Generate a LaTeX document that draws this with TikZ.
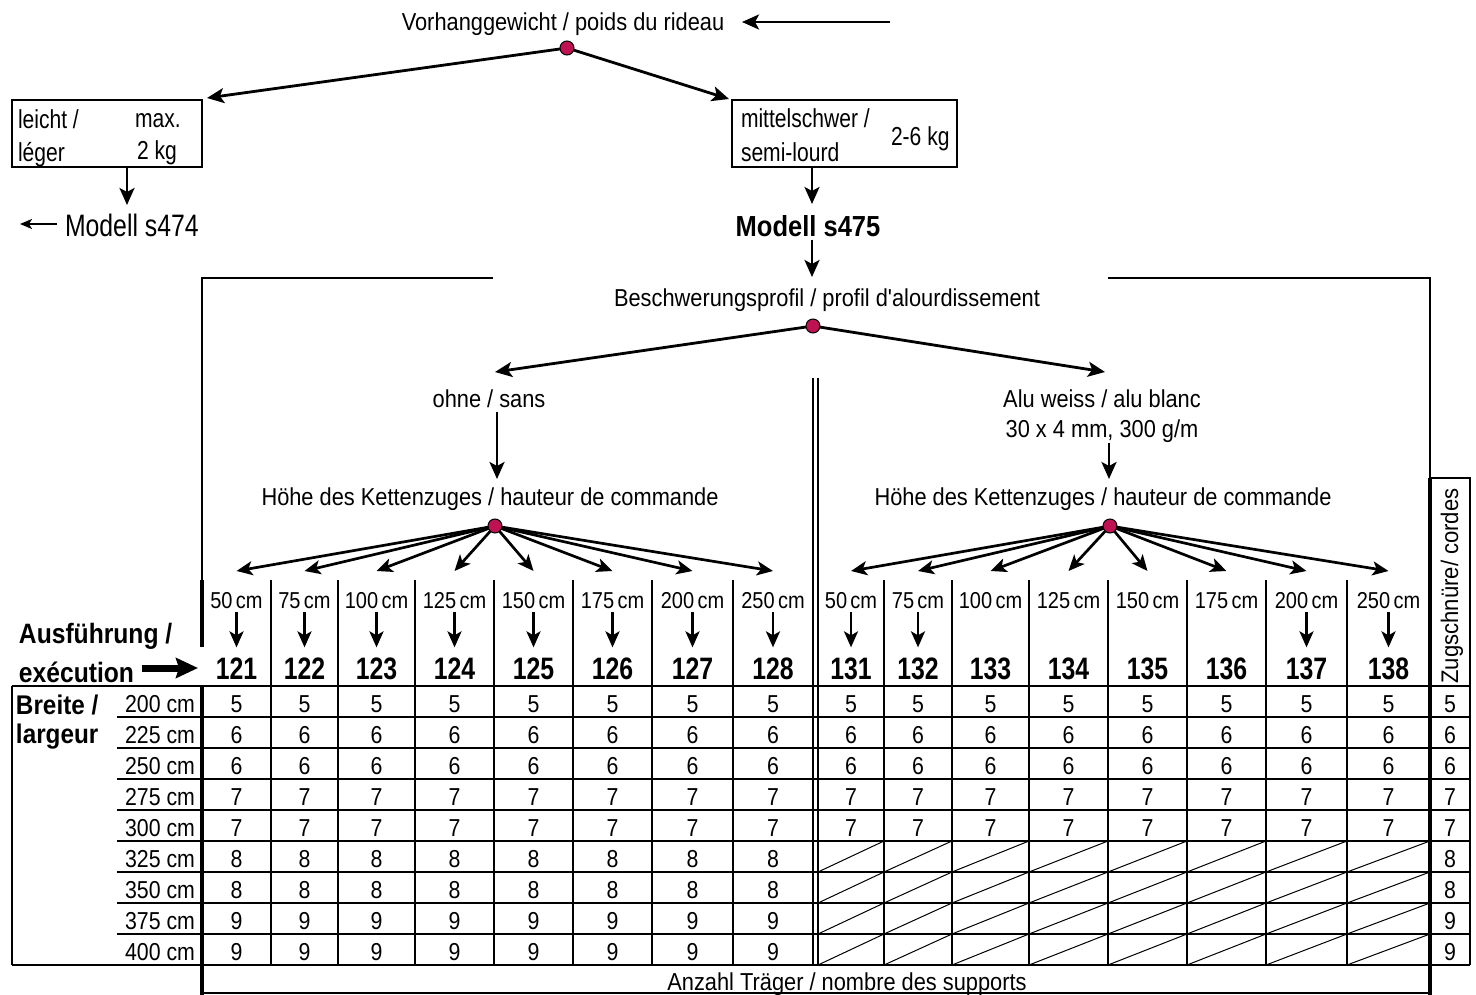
\documentclass[tikz,border=0pt]{standalone}
\usepackage{fontspec}
\setmainfont{Liberation Sans}
\usepackage{graphicx}
\usetikzlibrary{arrows.meta}
\definecolor{dotred}{RGB}{190,18,82}
\newcommand\myfs[1]{\fontsize{#1}{#1}\selectfont}
\newcommand\sxt[3]{\scalebox{#2}[1]{\myfs{#1}#3}}
\newcommand\lbl[1]{\sxt{24.5}{0.89}{#1}}
\newcommand\bxt[1]{\sxt{26}{0.81}{#1}}
\newcommand\colt[1]{\sxt{23}{0.87}{#1}}
\newcommand\numt[1]{\sxt{31}{0.8}{\bfseries #1}}
\newcommand\valt[1]{\sxt{24.5}{0.87}{#1}}
\begin{document}
\begin{tikzpicture}[x=1pt,y=-1pt,
  every node/.style={inner sep=0pt,outer sep=0pt},
  ln/.style={line width=1.3pt},
  mthk/.style={line width=2.4pt},
  thk/.style={line width=3.5pt},
  arr/.style={line width=2.8pt,-{Stealth[length=17pt,width=15pt,inset=4pt]}},
  farr/.style={line width=2.7pt,-{Stealth[length=16pt,width=14pt,inset=4pt]}},
  sarr/.style={line width=2pt,-{Stealth[length=12pt,width=10pt,inset=3pt]}},
  dotn/.style={circle,draw=black,line width=1pt,fill=dotred,minimum size=14pt},
  bx/.style={draw,line width=1.3pt},
]
\useasboundingbox (0,0) rectangle (1476,995);

% ---------------- top
\node[anchor=base] (vh) at (563,31) {\lbl{Vorhanggewicht / poids du rideau}};
\coordinate (vhsrc) at (890,22);
\coordinate (vhtip) at (742,22);
\draw[arr] (vhsrc) -- (vhtip);
\node[dotn] (d1) at (567,48) {};

\node[bx,minimum width=190pt,minimum height=67pt] (lbox) at (107,133.5) {};
\node[bx,minimum width=225pt,minimum height=67pt] (rbox) at (844.5,133.5) {};
\draw[arr] (d1) -- ([shift={(5,-2)}]lbox.north east);
\draw[arr] (d1) -- ([shift={(-3,-1)}]rbox.north west);

\node[anchor=base west] (lt1) at (18,129) {\bxt{leicht /}};
\node[anchor=base west] (lt2) at (135,128) {\bxt{max.}};
\node[anchor=base west] (lt3) at (18,162) {\bxt{léger}};
\node[anchor=base west] (lt4) at (137,160) {\bxt{2 kg}};

\node[anchor=base west] (rt1) at (741,128) {\bxt{mittelschwer /}};
\node[anchor=base west] (rt2) at (741,162) {\bxt{semi-lourd}};
\node[anchor=base west] (rt3) at (891,146) {\bxt{2-6 kg}};

% Modell s474
\node[anchor=base west] (m474) at (65,237) {\sxt{31}{0.8}{Modell s474}};
\coordinate (m474out) at (20,224);
\draw[sarr,shorten <=8pt] (m474.west |- m474out) -- (m474out);
\coordinate (la1) at (127,167);
\coordinate (la2) at (127,205);
\draw[arr] (la1) -- (la2);

% Modell s475
\node[anchor=base] (m475) at (808,237) {\sxt{29}{0.88}{\bfseries Modell s475}};
\coordinate (ra1) at (812,167);
\coordinate (ra2) at (812,204);
\draw[arr] (ra1) -- (ra2);
\coordinate (ra3) at (812,240);
\coordinate (ra4) at (812,277);
\draw[arr] (ra3) -- (ra4);

% Beschwerungsprofil
\node[anchor=base] (besch) at (827,306) {\lbl{Beschwerungsprofil / profil d\textquotesingle alourdissement}};
\node[dotn] (d2) at (813,326) {};
\coordinate (ohnetip) at (495,372);
\coordinate (alutip) at (1105,372);
\draw[arr] (d2) -- (ohnetip);
\draw[arr] (d2) -- (alutip);

\node[anchor=base] (ohne) at (489,407) {\lbl{ohne / sans}};
\node[anchor=base] (alu1) at (1102,407) {\lbl{Alu weiss / alu blanc}};
\node[anchor=base] (alu2) at (1102,437) {\lbl{30 x 4 mm, 300 g/m}};
\coordinate (oa1) at (497,412);
\coordinate (oa2) at (497,479);
\draw[arr] (oa1) -- (oa2);
\coordinate (aa1) at (1109,443);
\coordinate (aa2) at (1109,479);
\draw[arr] (aa1) -- (aa2);

\node[anchor=base] (hoeL) at (490,505) {\lbl{Höhe des Kettenzuges / hauteur de commande}};
\node[anchor=base] (hoeR) at (1103,505) {\lbl{Höhe des Kettenzuges / hauteur de commande}};
\node[dotn] (d3) at (495,526) {};
\node[dotn] (d4) at (1110,526) {};

% ---------------- frame
\draw[ln] (202,580) -- (202,278) -- (493,278);
\draw[ln] (1108,278) -- (1430,278) -- (1430,478) -- (1470,478) -- (1470,965);

% ---------------- header columns
\foreach \c/\x/\lab/\num in {1/236.5/50/121,2/304.5/75/122,3/376.5/100/123,4/454.5/125/124,5/533.5/150/125,6/612.5/175/126,7/692.5/200/127,8/773/250/128}{
  \coordinate (fL\c) at (\x,571);
  \draw[farr] (d3) -- (fL\c);
  \node[anchor=base] (hL\c) at (\x,608) {\colt{\lab\,cm}};
  \node[anchor=base] (nL\c) at (\x,679) {\numt{\num}};
  \draw[farr,shorten <=4pt,shorten >=10pt] (hL\c.south) -- (nL\c.north);
}
\foreach \c/\x/\lab/\num in {1/851/50/131,2/918/75/132,3/990.5/100/133,4/1068.5/125/134,5/1147.5/150/135,6/1226.5/175/136,7/1306.5/200/137,8/1388.5/250/138}{
  \coordinate (fR\c) at (\x,571);
  \draw[farr] (d4) -- (fR\c);
  \node[anchor=base] (hR\c) at (\x,608) {\colt{\lab\,cm}};
  \node[anchor=base] (nR\c) at (\x,679) {\numt{\num}};
}
\foreach \c in {1,2,7,8}{
  \draw[farr,shorten <=4pt,shorten >=10pt] (hR\c.south) -- (nR\c.north);
}

\node[rotate=90] (zug) at (1452,586) {\sxt{24}{0.92}{Zugschnüre/ cordes}};

% left labels
\node[anchor=base west] (ausf) at (19,643) {\sxt{28}{0.88}{\bfseries Ausführung /}};
\node[anchor=base west] (exec) at (19,682) {\sxt{28}{0.88}{\bfseries exécution}};
\coordinate (exectip) at (198,668);
\draw[line width=7pt,-{Stealth[length=22pt,width=20pt,inset=3pt]},shorten <=8pt] (exec.east |- exectip) -- (exectip);
\node[anchor=base west] (breite) at (16,714) {\sxt{27}{0.9}{\bfseries Breite /}};
\node[anchor=base west] (largeur) at (16,743) {\sxt{27}{0.9}{\bfseries largeur}};

% ---------------- table grid
\draw[ln] (12,686) -- (1470,686);
\draw[mthk] (117,717) -- (1470,717);
\foreach \y in {748,779,810,872,903,934} \draw[ln] (117,\y) -- (1470,\y);
\draw[mthk] (117,841) -- (1470,841);
\draw[mthk] (12,965) -- (1470,965);
\draw[ln] (12,686) -- (12,965);
\foreach \x in {271,338,415,494,573,652,733,884,952,1029,1108,1187,1266,1347}
  \draw[ln] (\x,580) -- (\x,965);
\draw[ln] (813,378) -- (813,965);
\draw[ln] (818,378) -- (818,965);
\draw[thk] (202,580) -- (202,647);
\draw[thk] (202,686) -- (202,995);
\draw[thk] (1430,478) -- (1430,995);
\draw[ln] (202,993) -- (1430,993);

% hatched cells
\foreach \p/\q in {841/872,872/903,903/934,934/965}
  \foreach \a/\b in {818/884,884/952,952/1029,1029/1108,1108/1187,1187/1266,1266/1347,1347/1430}
    \draw[line width=1pt] (\a,\q) -- (\b,\p);

% ---------------- table values
\foreach \r/\yb/\v/\w in {1/717/5/200,2/748/6/225,3/779/6/250,4/810/7/275,5/841/7/300,6/872/8/325,7/903/8/350,8/934/9/375,9/965/9/400}{
  \node[anchor=base east] (rl\r) at (195,\yb-5) {\valt{\w\ cm}};
  \foreach \c/\x in {1/236.5,2/304.5,3/376.5,4/454.5,5/533.5,6/612.5,7/692.5,8/773}
    \node[anchor=base] (vL\r\c) at (\x,\yb-5) {\valt{\v}};
  \ifnum\r<6
    \foreach \c/\x in {1/851,2/918,3/990.5,4/1068.5,5/1147.5,6/1226.5,7/1306.5,8/1388.5}
      \node[anchor=base] (vR\r\c) at (\x,\yb-5) {\valt{\v}};
  \fi
  \node[anchor=base] (vZ\r) at (1450,\yb-5) {\valt{\v}};
}

\node[anchor=base] (anz) at (847,990) {\lbl{Anzahl Träger / nombre des supports}};
\end{tikzpicture}
\end{document}
